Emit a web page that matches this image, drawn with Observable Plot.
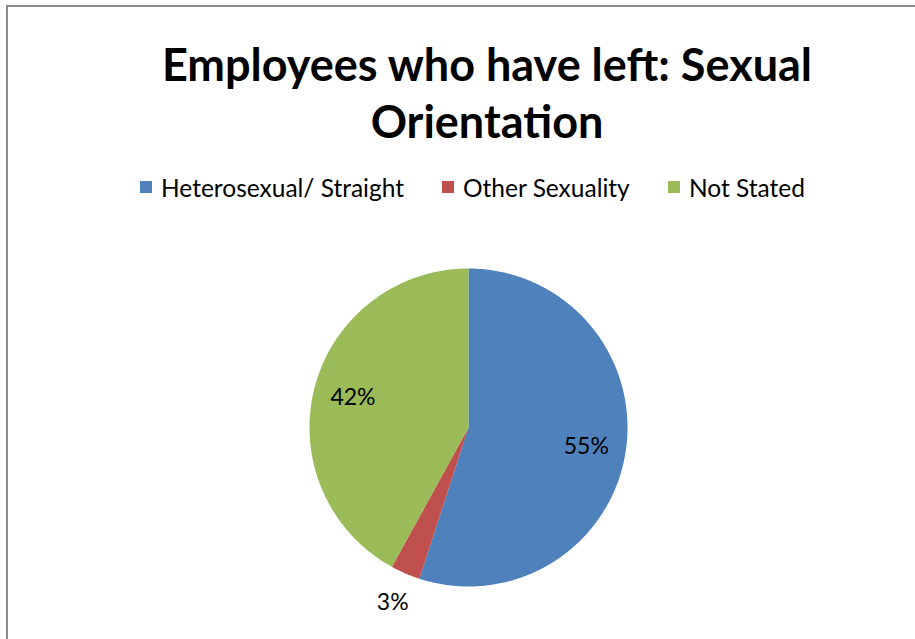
<!DOCTYPE html>
<html>
<head>
<meta charset="utf-8">
<script src="https://cdn.jsdelivr.net/npm/d3@7"></script>
<script src="https://cdn.jsdelivr.net/npm/@observablehq/plot@0.6"></script>
<style>
  html, body { margin: 0; padding: 0; background: #fff; }
  #wrap { position: relative; width: 915px; height: 639px; overflow: hidden; background: #fff; font-family: Lato, "Open Sans", sans-serif; }
  #frame { position: absolute; left: 6px; top: 5px; width: 1200px; height: 1200px; border-left: 2px solid #8a8a8a; border-top: 2px solid #8a8a8a; box-sizing: border-box; }
  #chart { position: absolute; left: 0; top: 0; }
  #title { position: absolute; left: 87px; width: 800px; top: 36px; text-align: center; font-weight: bold; font-size: 45px; line-height: 57px; color: #000; }
  .item { position: absolute; top: 172px; height: 30px; display: flex; align-items: center; font-size: 24.5px; color: #000; white-space: nowrap; }
  .sw { width: 12px; height: 12px; margin-right: 9px; }
</style>
</head>
<body>
<div id="wrap">
  <div id="frame"></div>
  <div id="chart"></div>
  <div id="title">Employees who have left: Sexual<br>Orientation</div>
</div>
<script>
const categories = ["Heterosexual/ Straight", "Other Sexuality", "Not Stated"];
const values = [55, 3, 42];
const labels = ["55%", "3%", "42%"];
const colors = ["#4F81BD", "#C0504D", "#9BBB59"];

const wrap = document.getElementById("wrap");
const legendX = [140, 442, 668];
categories.forEach((c, i) => {
  const it = document.createElement("div");
  it.className = "item";
  it.style.left = legendX[i] + "px";
  it.innerHTML = `<span class="sw" style="background:${colors[i]}"></span><span>${c}</span>`;
  wrap.appendChild(it);
});

const pie = d3.pie().sort(null).value(d => d.value);
const data = categories.map((name, i) => ({name, value: values[i], label: labels[i]}));
const arcs = pie(data);

// polygon points of each slice, generated from the pie angles
const pts = [];
arcs.forEach(a => {
  pts.push({name: a.data.name, x: 0, y: 0});
  const steps = Math.max(2, Math.ceil((a.endAngle - a.startAngle) / (Math.PI / 360)));
  for (let k = 0; k <= steps; k++) {
    const t = a.startAngle + (a.endAngle - a.startAngle) * k / steps;
    pts.push({name: a.data.name, x: Math.sin(t), y: Math.cos(t)});
  }
});

const labelPts = arcs.map(a => {
  const m = (a.startAngle + a.endAngle) / 2;
  const frac = (a.endAngle - a.startAngle) / (2 * Math.PI);
  const r = frac < 0.05 ? 1.2 : 0.75;
  return {label: a.data.label, x: r * Math.sin(m), y: r * Math.cos(m)};
});

const plot = Plot.plot({
  width: 915,
  height: 639,
  margin: 0,
  x: {domain: [-1, 1], range: [309, 627], axis: null},
  y: {domain: [-1, 1], range: [586, 268], axis: null},
  color: {domain: categories, range: colors},
  style: {background: "transparent", overflow: "visible"},
  marks: [
    Plot.line(pts, {x: "x", y: "y", z: "name", fill: "name", stroke: null, curve: "linear-closed"}),
    Plot.text(labelPts, {x: "x", y: "y", text: "label", fontSize: 23, fill: "#000", fontFamily: "Lato, 'Open Sans', sans-serif"})
  ]
});
document.getElementById("chart").appendChild(plot);
</script>
</body>
</html>
